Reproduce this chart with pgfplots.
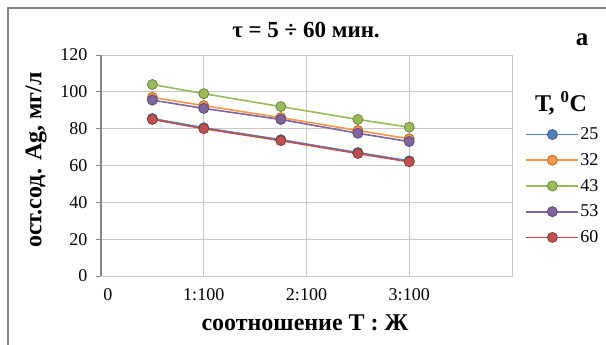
\documentclass[border=0pt]{standalone}
\usepackage{pgfplots}
\pgfplotsset{compat=1.18}
\usepackage{fontspec}
\setmainfont{Liberation Serif}
\definecolor{c1}{HTML}{4F81BD}
\definecolor{c2}{HTML}{F79646}
\definecolor{c3}{HTML}{9BBB59}
\definecolor{c4}{HTML}{8064A2}
\definecolor{c5}{HTML}{C0504D}
\definecolor{gridc}{HTML}{C8C8C8}
\definecolor{axc}{HTML}{868686}
\begin{document}
\begin{tikzpicture}
\useasboundingbox (0,0) rectangle (606pt,-345pt);
\draw[axc,line width=1.3pt] (8pt,-360pt) -- (8pt,-8pt) -- (620pt,-8pt);
\begin{axis}[
  at={(101pt,-276pt)}, anchor=south west,
  scale only axis, width=411pt, height=221pt,
  xmin=0, xmax=4, ymin=0, ymax=120,
  xtick={0,1,2,3,4}, xticklabels={\kern14pt 0,1:100,2:100,3:100,},
  ytick={0,20,...,120},
  xtick pos=bottom, ytick pos=left,
  grid=major, major grid style={gridc, line width=1pt},
  axis line style={gridc, line width=1pt},
  tick align=outside, major tick length=5pt,
  tick style={axc, line width=1pt},
  xtick style={draw=none},
  ticklabel style={font=\fontsize{18}{21}\selectfont},
  /pgf/number format/assume math mode=true,
  yticklabel style={xshift=-5pt},
  xticklabel style={yshift=-4pt},
  clip=false,
  legend style={at={(1.025,0.685)}, anchor=north west, draw=none, fill=none,
    font=\fontsize{18}{21}\selectfont, row sep=10.3pt,
    nodes={inner sep=1pt}},
  legend cell align=left,
  legend image code/.code={\draw[#1,line width=1.8pt,mark repeat=2,mark phase=2] plot coordinates {(0pt,0pt) (26pt,0pt) (52pt,0pt)};},
  every axis plot/.append style={line width=1.6pt, mark=*, mark size=5pt},
]
\draw[axc, line width=1.6pt] (axis cs:0,0) -- (axis cs:0,120);
\addplot[c1, mark options={fill=c1, draw=c1!70!black, line width=0.8pt}] coordinates {(0.5,85.5) (1,80.5) (1.75,74) (2.5,67) (3,62.5)};
\addplot[c2, mark options={fill=c2, draw=c2!70!black, line width=0.8pt}] coordinates {(0.5,97) (1,92.5) (1.75,86) (2.5,79) (3,74.5)};
\addplot[c3, mark options={fill=c3, draw=c3!70!black, line width=0.8pt}] coordinates {(0.5,104) (1,99) (1.75,92) (2.5,85) (3,80.8)};
\addplot[c4, mark options={fill=c4, draw=c4!70!black, line width=0.8pt}] coordinates {(0.5,95.5) (1,91) (1.75,85) (2.5,77.5) (3,73)};
\addplot[c5, mark options={fill=c5, draw=c5!70!black, line width=0.8pt}] coordinates {(0.5,85) (1,80) (1.75,73.5) (2.5,66.5) (3,62)};
\legend{25,32,43,53,60}
\end{axis}
\node[font=\fontsize{23}{26}\selectfont\bfseries] at (306pt,-30pt) {τ = 5 ÷ 60 мин.};
\node[font=\fontsize{25}{28}\selectfont\bfseries] at (582pt,-40pt) {а};
\node[font=\fontsize{24}{27}\selectfont\bfseries] at (561pt,-103pt) {Т, \textsuperscript{0}С};
\node[font=\fontsize{24}{27}\selectfont\bfseries] at (305pt,-323pt) {соотношение Т : Ж};
\node[font=\fontsize{24}{27}\selectfont\bfseries, rotate=90] at (36pt,-160pt) {ост.сод. Ag, мг/л};
\end{tikzpicture}
\end{document}
